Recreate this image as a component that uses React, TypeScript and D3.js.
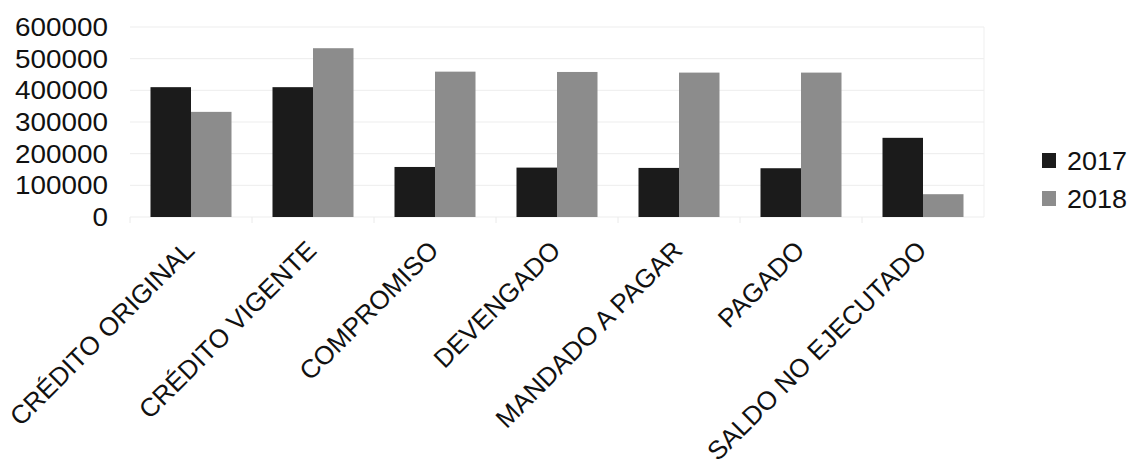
import React from "react";
import * as d3 from "d3";

const categories = [
  "CRÉDITO ORIGINAL",
  "CRÉDITO VIGENTE",
  "COMPROMISO",
  "DEVENGADO",
  "MANDADO A PAGAR",
  "PAGADO",
  "SALDO NO EJECUTADO",
];
const seriesNames = ["2017", "2018"];
const values2017 = [410000, 410000, 158000, 156000, 155000, 154000, 250000];
const values2018 = [332000, 533000, 459000, 458000, 456000, 456000, 72000];
const yTicks = [0, 100000, 200000, 300000, 400000, 500000, 600000];

const W = 1136;
const H = 471;
const plot = { left: 130, right: 984, top: 27, bottom: 217 };
const colors = ["#1b1b1b", "#8c8c8c"];
const FONT = "'Liberation Sans', Arial, sans-serif";

export default function App() {
  const x = d3
    .scaleBand<string>()
    .domain(categories)
    .range([plot.left, plot.right])
    .paddingInner(0.336)
    .paddingOuter(0.168);
  const xs = d3
    .scaleBand<string>()
    .domain(seriesNames)
    .range([0, x.bandwidth()]);
  const y = d3.scaleLinear().domain([0, 600000]).range([plot.bottom, plot.top]);
  const series = [values2017, values2018];

  return (
    <svg
      width={W}
      height={H}
      style={{ position: "absolute", left: 0, top: 0, background: "#fff" }}
      fontFamily={FONT}
    >
      <rect x={0} y={0} width={W} height={H} fill="#fff" />
      {/* gridlines */}
      {yTicks.map((t) => (
        <line
          key={"g" + t}
          x1={plot.left}
          x2={plot.right}
          y1={y(t)}
          y2={y(t)}
          stroke="#ededed"
          strokeWidth={1}
        />
      ))}
      <line
        x1={plot.right}
        x2={plot.right}
        y1={plot.top}
        y2={plot.bottom}
        stroke="#efefef"
      />
      {categories.map((c, i) => (
        <line
          key={"t" + c}
          x1={plot.left + i * x.step()}
          x2={plot.left + i * x.step()}
          y1={plot.bottom}
          y2={plot.bottom + 6}
          stroke="#eaeaea"
        />
      ))}
      {/* bars */}
      {series.map((vals, si) =>
        vals.map((v, i) => (
          <rect
            key={si + "-" + i}
            x={(x(categories[i]) as number) + (xs(seriesNames[si]) as number)}
            y={y(v)}
            width={xs.bandwidth()}
            height={y(0) - y(v)}
            fill={colors[si]}
          />
        ))
      )}
      {/* y axis labels */}
      {yTicks.map((t) => (
        <text
          key={"y" + t}
          x={108}
          y={y(t)}
          dy="0.36em"
          textAnchor="end"
          fontSize={25}
          fill="#111"
          textLength={String(t).length * 15.5}
          lengthAdjust="spacingAndGlyphs"
        >
          {t}
        </text>
      ))}
      {/* x labels */}
      {categories.map((c) => {
        const cx = (x(c) as number) + x.bandwidth() / 2;
        return (
          <text
            key={"x" + c}
            transform={`translate(${cx + 5},${plot.bottom + 35}) rotate(-45)`}
            textAnchor="end"
            fontSize={26}
            fill="#111"
          >
            {c}
          </text>
        );
      })}
      {/* legend */}
      {seriesNames.map((s, i) => (
        <g key={"l" + s} transform={`translate(1042,${153 + i * 38})`}>
          <rect x={0} y={0} width={14} height={15} fill={colors[i]} />
          <text
            x={25}
            y={17}
            fontSize={25}
            fill="#111"
            textLength={60}
            lengthAdjust="spacingAndGlyphs"
          >
            {s}
          </text>
        </g>
      ))}
    </svg>
  );
}
